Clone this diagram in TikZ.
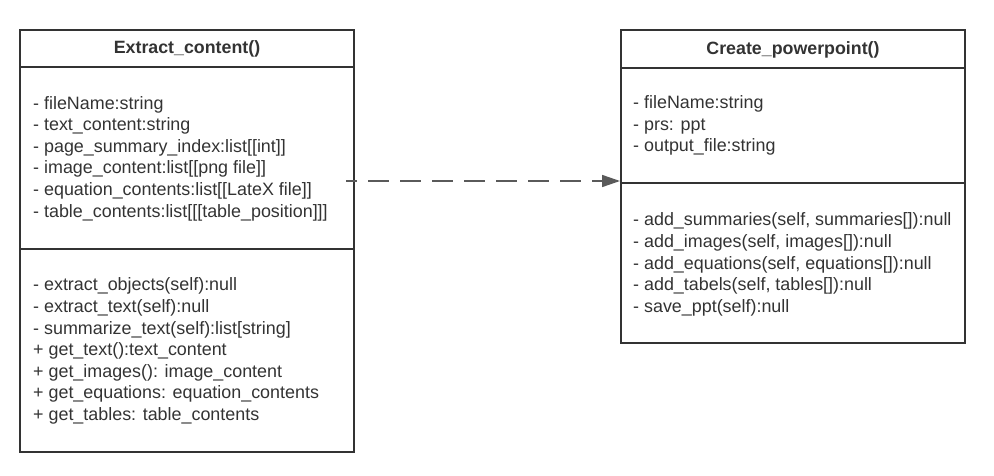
\documentclass[tikz,border=0pt]{standalone}
\usepackage{fontspec}
\setmainfont{Liberation Sans}
\usetikzlibrary{arrows.meta,calc}
\definecolor{boxline}{HTML}{333333}
\definecolor{txt}{HTML}{333333}
\definecolor{arr}{HTML}{5A5A5A}
\begin{document}
\begin{tikzpicture}[x=1pt,y=-1pt,
  umlbox/.style={draw=boxline,line width=2pt,rectangle,inner sep=0pt},
  sep/.style={draw=boxline,line width=2pt},
  title/.style={font=\fontsize{17.8}{21.5}\selectfont\bfseries,text=txt,inner sep=0pt},
  members/.style={font=\fontsize{17.9}{21.6}\selectfont,text=txt,align=left,anchor=west,inner sep=0pt},
  dep/.style={draw=arr,line width=1.6pt,dash pattern=on 21pt off 11pt,dash phase=10pt,
    -{Triangle[length=18pt,width=12pt,fill=arr]}}]
\useasboundingbox (0,0) rectangle (994,476);
% Left class box
\node[umlbox,minimum width=334pt,minimum height=422pt] (L) at (187,241) {};
\coordinate (L1) at (20,67);
\coordinate (L2) at (20,249);
\draw[sep] (L1) -- (L1 -| L.east);
\draw[sep] (L2) -- (L2 -| L.east);
\node[title] (Lt) at (187,49) {Extract\_content()};
\node[members] (La) at (33,158.5) {- fileName:string\\
- text\_content:string\\
- page\_summary\_index:list[[int]]\\
- image\_content:list[[png file]]\\
- equation\_contents:list[[LateX file]]\\
- table\_contents:list[[[table\_position]]]};
\node[members] (Lm) at (33,351) {- extract\_objects(self):null\\
- extract\_text(self):null\\
- summarize\_text(self):list[string]\\
+ get\_text():text\_content\\
+ get\_images(): image\_content\\
+ get\_equations: equation\_contents\\
+ get\_tables: table\_contents};
% Right class box
\node[umlbox,minimum width=344pt,minimum height=313pt] (R) at (793,186.5) {};
\coordinate (R1) at (621,68);
\coordinate (R2) at (621,183);
\draw[sep] (R1) -- (R1 -| R.east);
\draw[sep] (R2) -- (R2 -| R.east);
\node[title] (Rt) at (793,49.5) {Create\_powerpoint()};
\node[members] (Ra) at (633,125.5) {- fileName:string\\
- prs: ppt\\
- output\_file:string};
\node[members] (Rm) at (633,264.5) {- add\_summaries(self, summaries[]):null\\
- add\_images(self, images[]):null\\
- add\_equations(self, equations[]):null\\
- add\_tabels(self, tables[]):null\\
- save\_ppt(self):null};
% Dependency arrow
\coordinate (A0) at (346,181);
\draw[dep] (A0) -- (A0 -| R.west);
\end{tikzpicture}
\end{document}
